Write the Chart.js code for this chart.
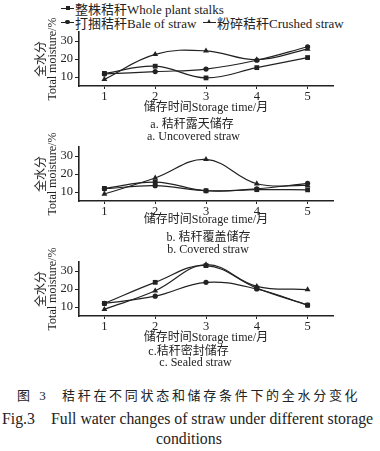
<!DOCTYPE html>
<html><head><meta charset="utf-8">
<script src="https://cdn.jsdelivr.net/npm/chart.js@4.4.1/dist/chart.umd.min.js"></script>
<style>
body{margin:0;width:380px;height:451px;background:#fff;position:relative;overflow:hidden;font-family:"Liberation Serif","Noto Sans CJK SC",serif;color:#222}
.abs{position:absolute;white-space:nowrap}
.ctr{text-align:center;width:240px}
canvas{position:absolute;left:0}
.sym{position:absolute;width:13px;height:1.3px;background:#222}
.mk{position:absolute;left:4.5px;top:-2px;width:4px;height:4px;background:#222}
.mk.c{border-radius:50%;width:4.4px;height:4.4px;top:-2.2px;left:4.3px}
.mk.t{background:none;width:0;height:0;border-left:2.6px solid transparent;border-right:2.6px solid transparent;border-bottom:4.6px solid #222;top:-2.8px;left:4px}
.leg{font-size:13px;line-height:14px}
.cap{font-size:12px;line-height:13px}
</style></head><body>
<div id="legend"></div>
<canvas id="ca" width="380" height="102" style="top:16px"></canvas>
<canvas id="cb" width="380" height="102" style="top:131px"></canvas>
<canvas id="cc" width="380" height="102" style="top:246px"></canvas>

<div class="abs ctr cap" style="left:72px;top:118px">a. 秸秆露天储存</div>
<div class="abs ctr cap" style="left:73.5px;top:130px">a. Uncovered straw</div>
<div class="abs ctr cap" style="left:88.5px;top:231px">b. 秸秆覆盖储存</div>
<div class="abs ctr cap" style="left:88px;top:243px">b. Covered straw</div>
<div class="abs ctr cap" style="left:68.5px;top:344.5px">c.秸秆密封储存</div>
<div class="abs ctr cap" style="left:75.5px;top:356px">c. Sealed straw</div>

<div class="abs" style="left:17px;top:388px;font-size:13px;line-height:16px;letter-spacing:3px">图 3</div>
<div class="abs" style="left:62px;top:388px;font-size:13px;line-height:16px;letter-spacing:2.7px">秸秆在不同状态和储存条件下的全水分变化</div>
<div class="abs" style="left:2px;top:410px;font-size:15.8px;line-height:18px">Fig.3</div>
<div class="abs" style="left:51px;top:410px;font-size:15.8px;line-height:18px">Full water changes of straw under different storage</div>
<div class="abs" style="left:156px;top:430px;font-size:15.8px;line-height:18px">conditions</div>

<script>
const months = ['1', '2', '3', '4', '5'];
const seriesNames = ['整株秸秆Whole plant stalks', '打捆秸秆Bale of straw', '粉碎秸秆Crushed straw'];
const yTicks = [10, 20, 30];
const yMin = 5, yMax = 35;

// a. Uncovered straw
const uncoveredWhole   = [12.0, 16.0, 9.5, 15.2, 20.8];
const uncoveredBale    = [11.7, 13.0, 14.4, 19.3, 26.8];
const uncoveredCrushed = [8.7, 22.6, 24.5, 19.6, 25.5];
// b. Covered straw
const coveredWhole   = [12.0, 15.5, 10.7, 11.3, 11.2];
const coveredBale    = [11.8, 13.5, 10.7, 11.8, 14.8];
const coveredCrushed = [8.9, 17.8, 28.1, 14.6, 13.6];
// c. Sealed straw
const sealedWhole   = [12.0, 23.7, 33.0, 20.5, 11.0];
const sealedBale    = [12.0, 16.0, 23.7, 20.0, 11.1];
const sealedCrushed = [8.7, 19.0, 33.5, 21.5, 19.7];

// legend (HTML)
const legendPos = [{l:61, t:8}, {l:61, t:22}, {l:203, t:22}];
const markerCls = ['', 'c', 't'];
const lg = document.getElementById('legend');
seriesNames.forEach((n, i) => {
  const p = legendPos[i];
  const s = document.createElement('div');
  s.className = 'sym'; s.style.left = p.l + 'px'; s.style.top = p.t + 'px';
  const m = document.createElement('div'); m.className = 'mk ' + markerCls[i];
  s.appendChild(m); lg.appendChild(s);
  const t = document.createElement('div');
  t.className = 'abs leg'; t.style.left = (p.l + 14) + 'px'; t.style.top = (p.t - 5.5) + 'px';
  t.textContent = n; lg.appendChild(t);
});

const fontFam = '"Liberation Serif", "Noto Sans CJK SC", serif';
const ink = '#222';
const styles = [
  {pointStyle: 'rect', pointRadius: 3.4},
  {pointStyle: 'circle', pointRadius: 2.6},
  {pointStyle: 'triangle', pointRadius: 3.4}
];

function makeChart(id, series, xTitlePad) {
  new Chart(document.getElementById(id), {
    type: 'line',
    data: {
      labels: months,
      datasets: series.map((d, i) => ({
        label: seriesNames[i], data: d,
        borderColor: ink, backgroundColor: ink, borderWidth: 1.2,
        pointBackgroundColor: ink, pointBorderColor: ink, pointBorderWidth: 0,
        tension: 0.4, clip: false, ...styles[i]
      }))
    },
    options: {
      responsive: false, animation: false, devicePixelRatio: 1,
      layout: {padding: {top: 16, right: 47, left: 0, bottom: 0}},
      plugins: {legend: {display: false}, tooltip: {enabled: false}},
      scales: {
        x: {
          type: 'category', offset: true,
          grid: {display: true, drawOnChartArea: false, drawTicks: true, tickLength: 3, offset: false, color: ink, lineWidth: 1},
          border: {display: true, color: ink, width: 1.6},
          ticks: {color: ink, padding: 0, font: {family: fontFam, size: 12.5}, maxRotation: 0},
          title: {display: true, text: '储存时间Storage time/月', color: ink,
                  font: {family: fontFam, size: 12, lineHeight: 1}, padding: {top: 0, bottom: xTitlePad}},
          afterFit: s => { s.height = 32; }
        },
        y: {
          min: yMin, max: yMax,
          afterBuildTicks: s => { s.ticks = yTicks.map(v => ({value: v})); },
          grid: {display: true, drawOnChartArea: false, drawTicks: true, tickLength: 4, color: ink, lineWidth: 1},
          border: {display: true, color: ink, width: 1.6},
          ticks: {color: ink, padding: 2, font: {family: fontFam, size: 12.5}},
          title: {display: true, text: ['全水分', 'Total moisture/%'], color: ink,
                  font: {family: fontFam, size: 12, lineHeight: 0.95}, padding: {top: 36, bottom: 0}},
          afterFit: s => { s.width = 79; }
        }
      }
    }
  });
}

makeChart('ca', [uncoveredWhole, uncoveredBale, uncoveredCrushed], 4);
makeChart('cb', [coveredWhole, coveredBale, coveredCrushed], 7);
makeChart('cc', [sealedWhole, sealedBale, sealedCrushed], 4.5);
</script>
</body></html>
